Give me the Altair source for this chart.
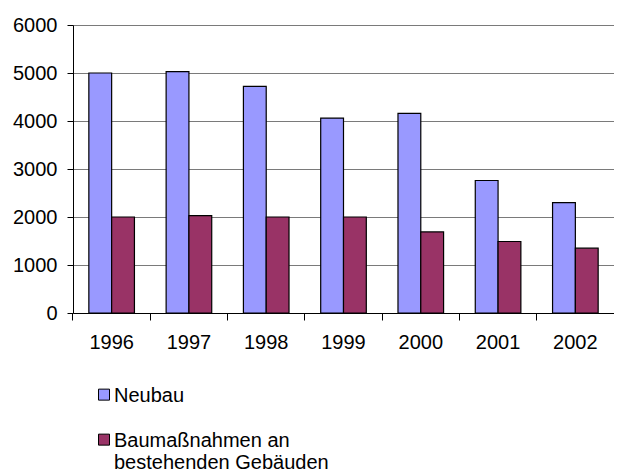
import altair as alt
import pandas as pd

years = ["1996", "1997", "1998", "1999", "2000", "2001", "2002"]
neubau = [5000, 5030, 4720, 4060, 4160, 2760, 2300]
bestand = [2000, 2030, 2000, 2000, 1690, 1490, 1350]
series = ["Neubau", "Baumaßnahmen an bestehenden Gebäuden"]
colors = ["#9999FF", "#993366"]
y_ticks = [0, 1000, 2000, 3000, 4000, 5000, 6000]

rows = []
for i, yr in enumerate(years):
    rows.append({"Jahr": yr, "Reihe": series[0], "Wert": neubau[i]})
    rows.append({"Jahr": yr, "Reihe": series[1], "Wert": bestand[i]})
df = pd.DataFrame(rows)

FONT = "Liberation Sans"
FS = 20

legend = alt.Legend(
    title=None,
    orient="none",
    legendX=21,
    legendY=351,
    direction="vertical",
    labelExpr="datum.label == 'Neubau' ? ['Neubau'] : ['Baumaßnahmen an', 'bestehenden Gebäuden']",
    labelBaseline="top",
    labelFont=FONT,
    labelFontSize=FS,
    labelColor="black",
    labelLimit=400,
    labelOffset=0,
    symbolType="M-1,0.57L1,0.57L1,2.57L-1,2.57Z",
    symbolSize=121,
    symbolStrokeColor="black",
    symbolStrokeWidth=1,
    symbolOpacity=1,
    rowPadding=15,
    padding=0,
)

chart = alt.Chart(df).mark_bar(stroke="black", strokeWidth=1.2).encode(
    x=alt.X(
        "Jahr:N",
        sort=years,
        title=None,
        scale=alt.Scale(paddingInner=0.41, paddingOuter=0.205),
        axis=alt.Axis(
            labelAngle=0,
            bandPosition=-0.3475,
            tickSize=7,
            tickColor="black",
            domainColor="black",
            labelPadding=12,
            labelFont=FONT,
            labelFontSize=FS,
            labelColor="black",
            grid=False,
        ),
    ),
    xOffset=alt.XOffset("Reihe:N", sort=series, scale=alt.Scale(paddingInner=0, paddingOuter=0)),
    y=alt.Y(
        "Wert:Q",
        title=None,
        scale=alt.Scale(domain=[0, 6000], nice=False),
        axis=alt.Axis(
            values=y_ticks,
            format="d",
            tickSize=6,
            tickColor="black",
            domainColor="black",
            labelPadding=10,
            labelFont=FONT,
            labelFontSize=FS,
            labelColor="black",
            grid=True,
            gridColor="#7a7a7a",
            gridWidth=1,
        ),
    ),
    color=alt.Color("Reihe:N", sort=series, scale=alt.Scale(domain=series, range=colors), legend=legend),
).properties(
    width=541,
    height=288,
    autosize=alt.AutoSizeParams(type="none"),
    padding={"left": 65, "top": 17, "right": 0, "bottom": 160},
).configure(font=FONT).configure_view(strokeWidth=0)

chart.save("out.html", embed_options={"renderer": "svg", "actions": False})
